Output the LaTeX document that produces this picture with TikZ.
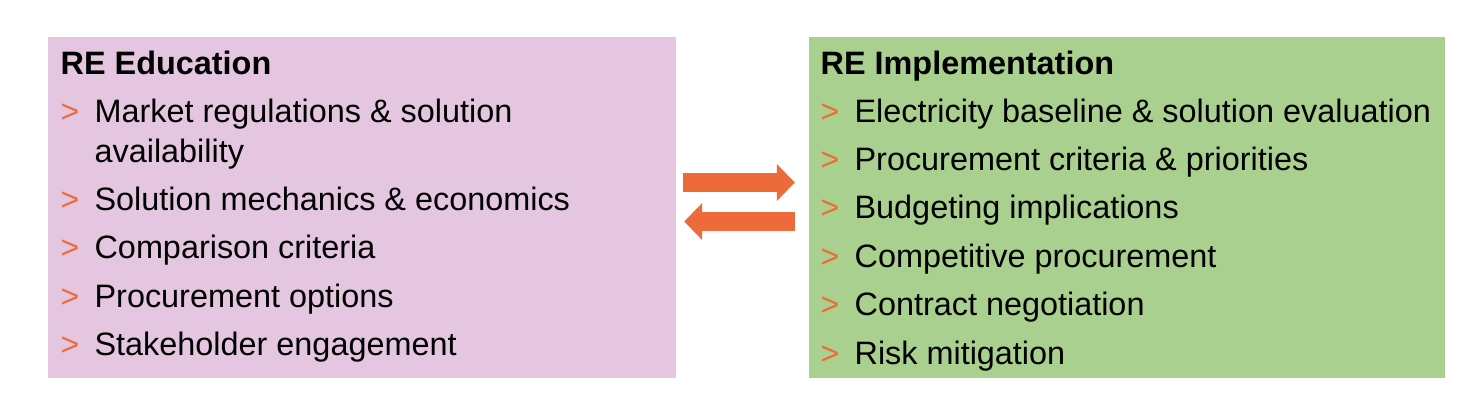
\documentclass[tikz,border=0pt]{standalone}
\usepackage{fontspec}
\setmainfont{Liberation Sans}
\usepackage{tikz}
\usetikzlibrary{arrows.meta}

\definecolor{edupink}{RGB}{228,198,224}
\definecolor{implgreen}{RGB}{169,208,142}
\definecolor{reorange}{RGB}{237,106,58}

\tikzset{
  box/.style={draw=none, inner sep=0pt},
  head/.style={anchor=base west, inner sep=0pt, font=\fontsize{32.4}{40}\selectfont\bfseries},
  item/.style={anchor=base west, inner sep=0pt, font=\fontsize{32.4}{40}\selectfont},
  bullet/.style={anchor=base west, inner sep=0pt, text=reorange, font=\fontsize{32}{40}\selectfont},
  fatarrow/.style={draw=reorange, line width=19pt, -{Triangle[length=18pt,width=36pt]}}
}

\begin{document}
\begin{tikzpicture}[x=1pt,y=-1pt]
  \useasboundingbox (0,0) rectangle (1465,415);

  \node[box, fill=edupink, minimum width=628pt, minimum height=341pt] (edu) at (362,207.5) {};
  \node[box, fill=implgreen, minimum width=636pt, minimum height=341pt] (impl) at (1127,207.5) {};

  \node[head] (eduhead) at (60.5,74) {RE Education};
  \foreach \y/\t [count=\i] in {122/{Market regulations \& solution},
      210.4/{Solution mechanics \& economics}, 258.8/{Comparison criteria},
      307.2/{Procurement options}, 355.6/{Stakeholder engagement}} {
    \node[bullet] (edub\i) at (60.5,\y) {>};
    \node[item] (edui\i) at (94.4,\y) {\t};
  }
  \node[item] (eduwrap) at (94.4,162) {availability};

  \node[head] (implhead) at (820.5,74) {RE Implementation};
  \foreach \y/\t [count=\i] in {122/{Electricity baseline \& solution evaluation},
      170.4/{Procurement criteria \& priorities}, 218.8/{Budgeting implications},
      267.2/{Competitive procurement}, 315.6/{Contract negotiation},
      364/{Risk mitigation}} {
    \node[bullet] (implb\i) at (820.5,\y) {>};
    \node[item] (impli\i) at (854.4,\y) {\t};
  }

  \draw[fatarrow] ([xshift=7pt,yshift=25pt]edu.east) -- ([xshift=-14pt,yshift=25pt]impl.west);
  \draw[fatarrow] ([xshift=-14pt,yshift=-14pt]impl.west) -- ([xshift=8pt,yshift=-14pt]edu.east);
\end{tikzpicture}
\end{document}
